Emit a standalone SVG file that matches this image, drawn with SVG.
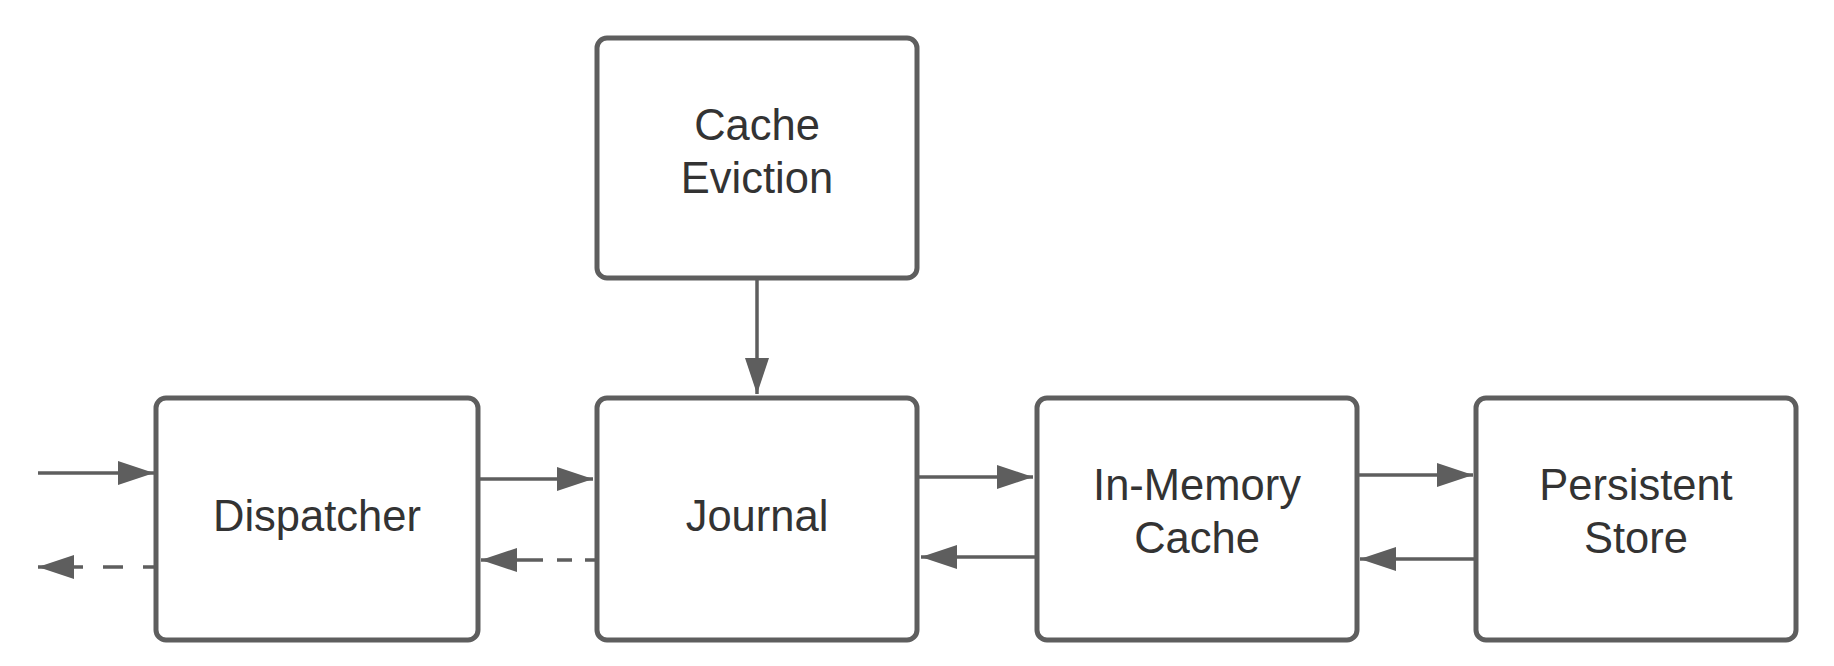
<svg xmlns="http://www.w3.org/2000/svg" width="1834" height="666" viewBox="0 0 1834 666">
<style>
.box{fill:#ffffff;stroke:#5e5e5e;stroke-width:5}
.lbl{font-family:"Liberation Sans",Arial,sans-serif;font-size:43.5px;fill:#333333;text-anchor:middle}
.edge{stroke:#5e5e5e;stroke-width:3.5;fill:none}
</style>
<defs>
<marker id="ah" markerUnits="userSpaceOnUse" markerWidth="36" markerHeight="24" refX="36" refY="12" orient="auto" viewBox="0 0 36 24">
<path d="M0,0 L36,12 L0,24 z" fill="#5e5e5e"/>
</marker>
</defs>
<rect width="1834" height="666" fill="#ffffff"/>
<g id="connectors">
<line class="edge" x1="757" y1="279" x2="757" y2="394" marker-end="url(#ah)"/>
<line class="edge" x1="38" y1="473" x2="154" y2="473" marker-end="url(#ah)"/>
<line class="edge" x1="154" y1="567" x2="38" y2="567" stroke-dasharray="11 20 20 20 300" marker-end="url(#ah)"/>
<line class="edge" x1="479" y1="479" x2="593" y2="479" marker-end="url(#ah)"/>
<line class="edge" x1="595" y1="560" x2="481" y2="560" stroke-dasharray="10 13 15 14 300" marker-end="url(#ah)"/>
<line class="edge" x1="918" y1="477" x2="1033" y2="477" marker-end="url(#ah)"/>
<line class="edge" x1="1035" y1="557" x2="921" y2="557" marker-end="url(#ah)"/>
<line class="edge" x1="1358" y1="475" x2="1473" y2="475" marker-end="url(#ah)"/>
<line class="edge" x1="1475" y1="559" x2="1360" y2="559" marker-end="url(#ah)"/>
</g>
<g id="cache-eviction">
<rect class="box" x="597" y="38" width="320" height="240" rx="10"/>
<text class="lbl" x="757" y="140">Cache</text>
<text class="lbl" x="757" y="193">Eviction</text>
</g>
<g id="dispatcher">
<rect class="box" x="156" y="398" width="322" height="242" rx="10"/>
<text class="lbl" x="317" y="531">Dispatcher</text>
</g>
<g id="journal">
<rect class="box" x="597" y="398" width="320" height="242" rx="10"/>
<text class="lbl" x="757" y="531">Journal</text>
</g>
<g id="in-memory-cache">
<rect class="box" x="1037" y="398" width="320" height="242" rx="10"/>
<text class="lbl" x="1197" y="500">In-Memory</text>
<text class="lbl" x="1197" y="553">Cache</text>
</g>
<g id="persistent-store">
<rect class="box" x="1476" y="398" width="320" height="242" rx="10"/>
<text class="lbl" x="1636" y="500">Persistent</text>
<text class="lbl" x="1636" y="553">Store</text>
</g>
</svg>
